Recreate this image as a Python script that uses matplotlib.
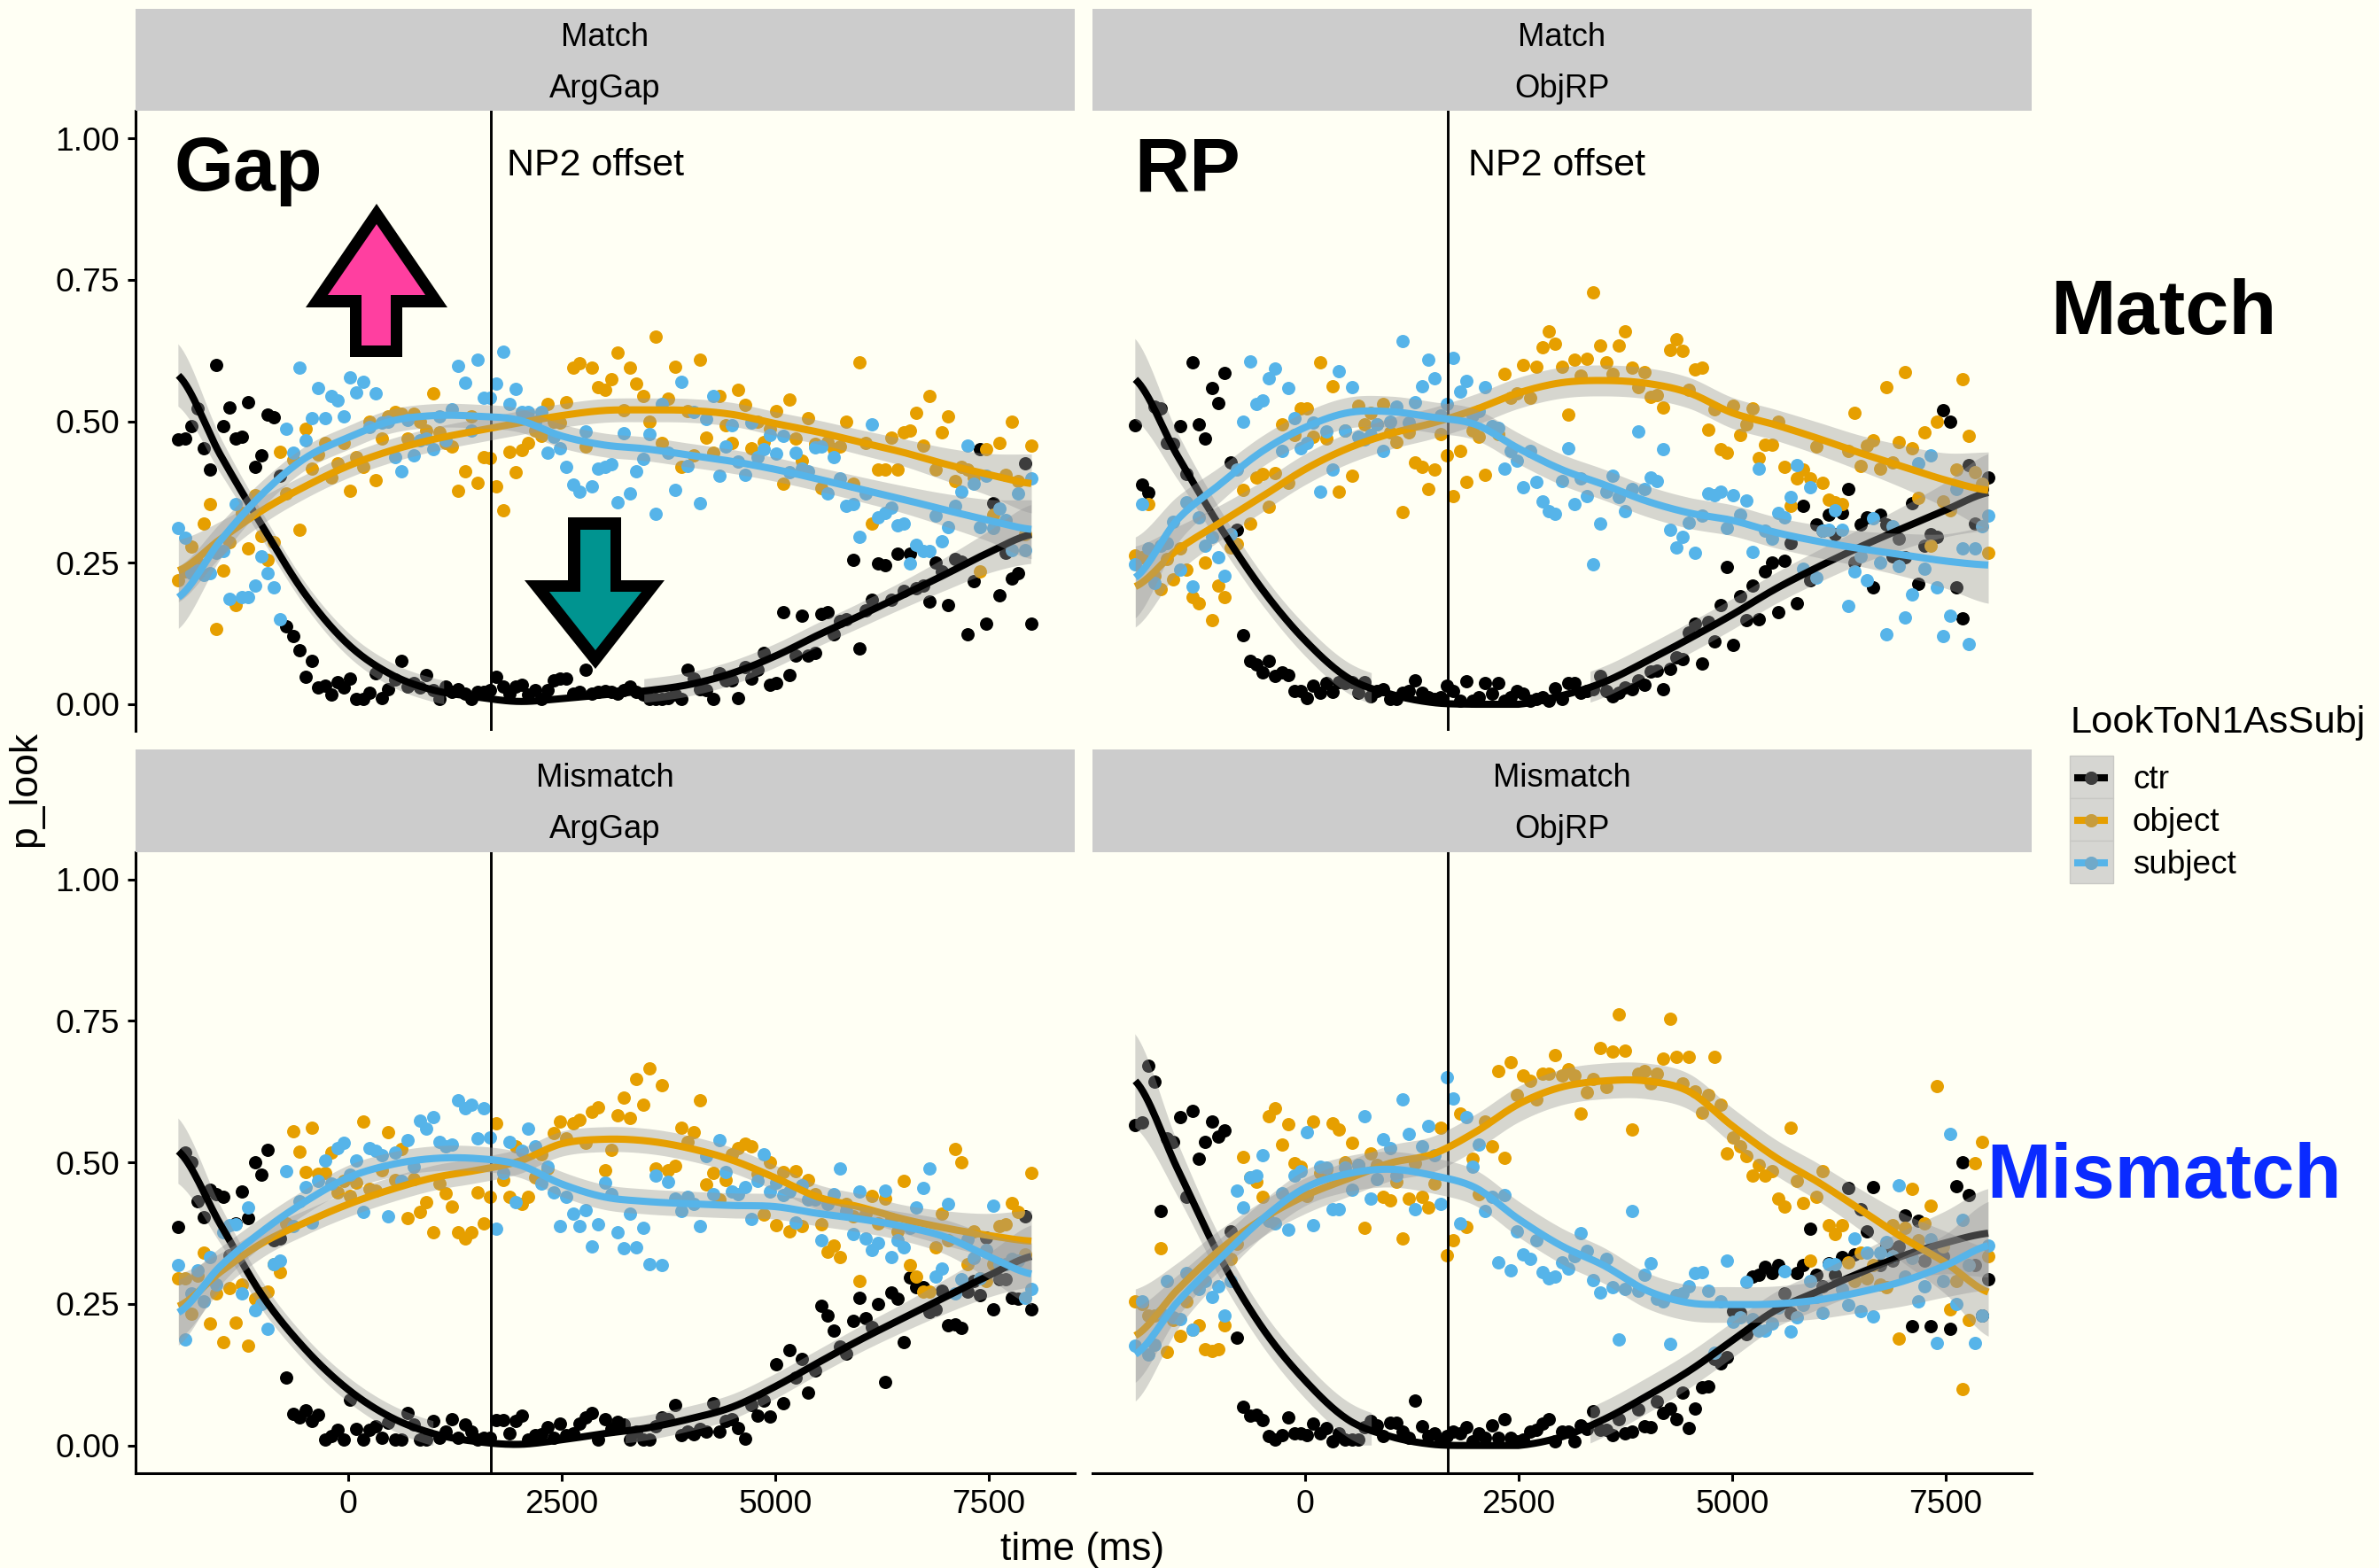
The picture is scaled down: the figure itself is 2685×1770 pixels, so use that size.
import numpy as np
import matplotlib
matplotlib.use("Agg")
import matplotlib.pyplot as plt
from matplotlib.patches import Polygon, Rectangle

plt.rcParams['font.family'] = ['Liberation Sans', 'DejaVu Sans']

W, H, DPI = 2685, 1770, 200
BG = '#FFFFF4'
COLORS = {'ctr': '#000000', 'object': '#E69F00', 'subject': '#56B4E9'}

TIME_START, TIME_STEP = -1986, 74.5
np2_offset_ms = 1675
x_ticks = [0, 2500, 5000, 7500]
y_ticks = [0.00, 0.25, 0.50, 0.75, 1.00]
y_tick_labels = ['0.00', '0.25', '0.50', '0.75', '1.00']
legend_labels = ['ctr', 'object', 'subject']

# ---- observed points (one value per time bin) ----
A_ctr = [.468,.470,.491,.523,.452,.415,.599,.491,.525,.470,.473,.534,.419,.439,.511,.507,.404,.138,.120,.095,.048,.077,.03,.033,.017,.039,.029,.045,.010,.009,.021,.054,.011,.027,.044,.076,.032,.038,.030,.052,.025,.010,.032,.022,.027,.019,.009,.022,.022,.025,.048,.032,.019,.032,.035,.017,.025,.009,.025,.043,.045,.045,.019,.022,.061,.019,.022,.023,.022,.019,.025,.032,.022,.017,.009,.009,.009,.011,.017,.009,.061,.045,.027,.025,.010,.054,.043,.043,.011,.066,.045,.061,.091,.035,.037,.163,.051,.086,.156,.086,.090,.160,.163,.124,.147,.150,.255,.098,.166,.185,.249,.245,.184,.266,.200,.266,.205,.21,.182,.251,.234,.176,.257,.252,.123,.218,.450,.143,.355,.192,.267,.223,.232,.425,.142]
A_obj = [.219,.235,.279,.25,.32,.354,.133,.236,.286,.176,.338,.275,.37,.297,.255,.286,.446,.372,.432,.308,.486,.416,.441,.461,.40,.426,.461,.377,.436,.419,.50,.396,.47,.508,.517,.514,.470,.513,.50,.484,.55,.481,.461,.456,.377,.411,.508,.391,.437,.435,.385,.343,.446,.41,.449,.462,.483,.474,.53,.50,.498,.533,.594,.602,.456,.594,.56,.556,.574,.622,.52,.595,.566,.544,.5,.65,.462,.54,.597,.419,.518,.44,.608,.471,.445,.544,.493,.461,.556,.529,.452,.5,.463,.487,.518,.389,.538,.469,.43,.505,.46,.382,.463,.45,.455,.5,.39,.604,.462,.32,.415,.415,.471,.415,.481,.484,.515,.457,.544,.415,.48,.509,.394,.42,.415,.40,.235,.451,.335,.461,.405,.499,.394,.301,.457]
A_sub = [.312,.294,.231,.236,.228,.231,.267,.27,.187,.353,.189,.189,.21,.262,.232,.206,.15,.487,.444,.595,.466,.505,.559,.505,.544,.537,.509,.577,.551,.569,.49,.55,.497,.5,.437,.412,.503,.44,.466,.47,.45,.508,.466,.521,.598,.568,.484,.608,.541,.541,.566,.623,.531,.557,.516,.516,.50,.516,.445,.473,.453,.42,.388,.376,.482,.385,.416,.419,.424,.357,.479,.372,.411,.433,.478,.336,.53,.445,.379,.569,.421,.516,.355,.504,.544,.404,.456,.493,.429,.405,.497,.437,.45,.475,.443,.474,.41,.444,.416,.411,.454,.456,.372,.436,.399,.351,.354,.295,.372,.494,.33,.338,.348,.316,.32,.249,.281,.27,.27,.333,.288,.313,.35,.375,.457,.39,.313,.403,.312,.346,.325,.273,.372,.273,.399]

B_ctr = [.493,.388,.374,.526,.522,.462,.46,.492,.407,.604,.494,.469,.558,.532,.585,.427,.309,.122,.076,.071,.057,.077,.05,.057,.052,.023,.023,.011,.033,.021,.037,.022,.039,.037,.039,.021,.039,.014,.023,.027,.01,.01,.021,.024,.042,.021,.013,.01,.013,.033,.023,.007,.04,.007,.013,.038,.019,.037,.007,.013,.024,.018,.007,.01,.013,.007,.028,.009,.038,.038,.021,.023,.026,.05,.024,.014,.02,.03,.026,.042,.035,.058,.06,.026,.063,.083,.08,.126,.142,.072,.145,.111,.176,.243,.105,.191,.148,.21,.15,.235,.251,.162,.253,.285,.179,.35,.219,.317,.306,.335,.30,.338,.38,.251,.317,.33,.207,.335,.317,.262,.293,.259,.355,.213,.28,.30,.295,.52,.50,.207,.152,.423,.32,.38,.40]
B_obj = [.263,.259,.353,.227,.203,.256,.22,.275,.238,.19,.178,.251,.149,.21,.19,.277,.283,.379,.32,.40,.407,.349,.408,.494,.391,.476,.523,.522,.473,.604,.47,.562,.375,.484,.403,.528,.494,.515,.494,.53,.48,.464,.34,.481,.427,.42,.38,.414,.478,.439,.367,.447,.393,.484,.472,.406,.49,.478,.583,.542,.55,.599,.542,.597,.631,.659,.637,.596,.512,.609,.581,.611,.727,.634,.604,.584,.634,.659,.595,.56,.587,.543,.546,.525,.626,.645,.625,.556,.592,.594,.485,.521,.451,.445,.527,.476,.494,.523,.435,.458,.458,.50,.419,.35,.399,.415,.399,.456,.391,.362,.357,.354,.448,.515,.421,.457,.467,.416,.561,.428,.463,.587,.452,.364,.48,.28,.50,.359,.343,.414,.575,.474,.41,.39,.268]
B_sub = [.247,.354,.275,.214,.28,.285,.322,.238,.357,.208,.33,.28,.296,.259,.227,.301,.415,.50,.605,.53,.536,.576,.593,.448,.559,.505,.453,.462,.497,.375,.482,.415,.588,.484,.561,.473,.468,.475,.494,.447,.50,.526,.642,.497,.534,.562,.609,.576,.51,.531,.612,.553,.571,.51,.518,.56,.492,.489,.416,.448,.431,.383,.448,.393,.359,.341,.337,.395,.453,.354,.399,.367,.248,.319,.375,.403,.366,.341,.38,.482,.38,.40,.394,.45,.309,.277,.296,.321,.268,.334,.372,.37,.375,.311,.369,.335,.36,.269,.417,.306,.293,.338,.33,.366,.423,.239,.383,.224,.306,.309,.343,.309,.173,.235,.261,.219,.329,.251,.123,.314,.244,.153,.194,.425,.24,.439,.207,.121,.157,.38,.275,.106,.275,.315,.334]

C_ctr = [.386,.517,.50,.431,.404,.452,.444,.44,.336,.392,.448,.402,.50,.479,.523,.362,.366,.12,.056,.05,.062,.044,.055,.011,.017,.027,.01,.081,.03,.011,.028,.034,.013,.041,.011,.011,.057,.037,.01,.01,.044,.013,.024,.047,.013,.037,.024,.01,.013,.014,.045,.045,.022,.044,.052,.01,.018,.02,.033,.013,.038,.019,.021,.039,.05,.057,.01,.047,.029,.042,.037,.011,.024,.011,.011,.034,.049,.047,.072,.019,.024,.02,.029,.025,.075,.025,.044,.047,.031,.012,.072,.053,.079,.051,.143,.074,.169,.12,.153,.093,.132,.247,.229,.203,.175,.162,.22,.261,.225,.21,.25,.112,.271,.26,.183,.297,.28,.28,.236,.24,.274,.213,.214,.208,.272,.29,.266,.367,.241,.293,.293,.261,.26,.405,.241]
C_obj = [.295,.296,.232,.30,.34,.215,.269,.182,.278,.217,.284,.177,.26,.269,.272,.321,.307,.393,.555,.519,.483,.561,.48,.482,.518,.447,.468,.441,.464,.573,.453,.45,.486,.554,.469,.524,.401,.471,.413,.43,.376,.462,.446,.422,.376,.365,.376,.447,.393,.44,.569,.469,.44,.528,.427,.44,.473,.515,.49,.552,.572,.542,.569,.575,.535,.589,.597,.487,.523,.584,.615,.578,.648,.602,.666,.49,.636,.487,.494,.562,.537,.553,.61,.461,.481,.435,.469,.515,.525,.533,.529,.48,.408,.50,.389,.483,.379,.484,.388,.469,.444,.391,.342,.353,.333,.426,.405,.29,.41,.441,.392,.436,.40,.379,.467,.319,.298,.272,.272,.35,.41,.363,.524,.50,.32,.379,.295,.29,.32,.387,.39,.428,.413,.337,.482]
C_sub = [.318,.187,.269,.31,.255,.333,.285,.376,.389,.391,.269,.42,.239,.25,.206,.321,.327,.485,.388,.432,.456,.394,.468,.504,.462,.525,.534,.478,.504,.413,.525,.52,.513,.405,.518,.468,.54,.492,.574,.559,.58,.537,.528,.531,.61,.596,.602,.542,.596,.544,.383,.481,.536,.43,.52,.56,.528,.462,.493,.447,.388,.44,.409,.388,.416,.352,.39,.465,.444,.376,.349,.41,.35,.385,.321,.477,.318,.466,.436,.415,.439,.426,.388,.511,.444,.54,.483,.448,.444,.456,.40,.468,.514,.448,.465,.443,.449,.394,.46,.435,.434,.362,.426,.444,.49,.415,.373,.448,.366,.345,.358,.451,.333,.363,.35,.384,.42,.455,.49,.299,.313,.426,.269,.293,.364,.332,.295,.345,.424,.32,.32,.33,.327,.261,.277]

D_ctr = [.566,.571,.671,.643,.415,.543,.536,.58,.439,.591,.507,.536,.573,.546,.557,.378,.19,.068,.052,.054,.045,.016,.01,.019,.049,.021,.021,.019,.038,.021,.031,.008,.021,.01,.01,.01,.032,.044,.035,.016,.041,.041,.024,.013,.08,.034,.016,.022,.008,.016,.024,.022,.032,.008,.021,.013,.035,.013,.046,.013,.008,.01,.024,.027,.038,.046,.008,.024,.024,.008,.036,.03,.061,.027,.027,.019,.047,.021,.024,.064,.034,.032,.077,.057,.066,.046,.094,.031,.066,.103,.104,.153,.145,.156,.238,.235,.197,.299,.301,.315,.304,.318,.268,.235,.304,.319,.383,.301,.282,.322,.302,.333,.455,.337,.417,.378,.457,.318,.351,.326,.351,.407,.211,.397,.326,.211,.34,.334,.206,.458,.50,.443,.318,.23,.293]
D_obj = [.255,.25,.23,.23,.349,.166,.222,.193,.255,.205,.212,.17,.167,.17,.212,.329,.356,.51,.474,.466,.44,.581,.595,.532,.567,.499,.493,.441,.572,.482,.488,.569,.558,.50,.535,.496,.384,.516,.496,.439,.433,.466,.366,.436,.499,.439,.421,.462,.561,.336,.362,.586,.386,.506,.444,.573,.528,.662,.508,.677,.62,.654,.645,.611,.657,.657,.689,.653,.664,.654,.587,.624,.647,.702,.634,.696,.761,.698,.558,.657,.661,.64,.657,.684,.754,.687,.64,.686,.625,.588,.62,.686,.602,.516,.544,.529,.512,.477,.495,.477,.484,.436,.422,.561,.468,.428,.326,.439,.485,.389,.373,.389,.323,.29,.34,.296,.318,.285,.279,.389,.189,.384,.454,.362,.392,.424,.635,.351,.24,.29,.10,.222,.499,.537,.334]
D_sub = [.177,.254,.161,.178,.235,.291,.227,.224,.304,.204,.277,.29,.262,.282,.229,.29,.451,.42,.473,.477,.513,.397,.392,.445,.381,.477,.484,.554,.389,.492,.491,.418,.418,.491,.452,.496,.581,.436,.471,.541,.526,.477,.611,.55,.418,.529,.565,.513,.426,.651,.613,.392,.58,.493,.532,.415,.44,.324,.443,.31,.378,.337,.329,.363,.307,.296,.299,.323,.313,.334,.375,.344,.292,.271,.33,.279,.187,.277,.415,.274,.302,.322,.26,.255,.179,.266,.268,.282,.305,.307,.273,.164,.255,.326,.219,.227,.289,.224,.203,.203,.216,.244,.308,.201,.227,.249,.29,.263,.234,.32,.32,.277,.249,.366,.238,.34,.228,.34,.359,.334,.459,.299,.332,.255,.282,.364,.181,.29,.55,.25,.399,.318,.181,.23,.353]

# ---- fitted smooth curves, read every 500 ms ----
smooth_t = [-1986,-1500,-1000,-500,0,500,1000,1500,2000,2500,3000,3500,4000,4500,5000,5500,6000,6500,7000,7500,8000]
A_ctr_fit = [.581,.442,.314,.194,.106,.053,.025,.013,.005,.010,.017,.024,.035,.055,.085,.122,.157,.193,.23,.268,.30]
A_obj_fit = [.236,.291,.343,.385,.421,.448,.468,.483,.497,.510,.519,.520,.519,.512,.496,.481,.463,.445,.424,.406,.390]
A_sub_fit = [.189,.288,.372,.435,.471,.50,.51,.509,.502,.474,.458,.451,.44,.429,.415,.398,.38,.362,.343,.325,.309]
B_ctr_fit = [.574,.441,.315,.203,.113,.047,.018,.003,0,0,.015,.039,.076,.116,.158,.203,.242,.278,.311,.343,.374]
B_obj_fit = [.208,.272,.32,.367,.415,.452,.478,.497,.521,.55,.568,.572,.567,.55,.515,.494,.47,.444,.42,.396,.378]
B_sub_fit = [.224,.325,.388,.447,.489,.515,.517,.507,.494,.452,.415,.388,.359,.338,.325,.304,.288,.275,.264,.253,.246]
C_ctr_fit = [.52,.392,.264,.17,.099,.05,.021,.007,.002,.010,.021,.031,.047,.068,.104,.146,.187,.225,.263,.30,.334]
C_obj_fit = [.246,.306,.358,.394,.426,.452,.473,.486,.502,.533,.541,.538,.525,.504,.473,.439,.421,.40,.384,.371,.361]
C_sub_fit = [.235,.316,.379,.431,.473,.496,.507,.507,.496,.462,.439,.431,.427,.424,.422,.41,.40,.387,.368,.334,.303]
D_ctr_fit = [.644,.491,.334,.208,.115,.046,.016,.002,0,0,.015,.046,.087,.132,.185,.238,.272,.305,.335,.358,.375]
D_obj_fit = [.194,.274,.345,.40,.441,.471,.499,.515,.554,.603,.633,.644,.644,.625,.565,.51,.466,.417,.367,.323,.271]
D_sub_fit = [.161,.252,.329,.40,.455,.48,.488,.477,.455,.40,.353,.318,.274,.252,.249,.25,.257,.271,.29,.318,.353]

band_halfwidth = [.055,.032,.024,.021,.021,.021,.021,.021,.021,.021,.021,.021,.021,.021,.021,.021,.022,.024,.029,.037,.052]

panels = [
    dict(top=('Match', 'ArgGap'), box=(153, 125, 1213, 825), strip=(10, 125), y0=795,
         pts=(A_ctr, A_obj, A_sub), fit=(A_ctr_fit, A_obj_fit, A_sub_fit), band=1.0, gap=(1128, 3450),
         left=True, bottom=False, note=2900),
    dict(top=('Match', 'ObjRP'), box=(1233, 125, 2293, 825), strip=(10, 125), y0=795,
         pts=(B_ctr, B_obj, B_sub), fit=(B_ctr_fit, B_obj_fit, B_sub_fit), band=1.3, gap=(793, 3328),
         left=False, bottom=False, note=2950),
    dict(top=('Mismatch', 'ArgGap'), box=(153, 962, 1213, 1663), strip=(846, 962), y0=1631.7,
         pts=(C_ctr, C_obj, C_sub), fit=(C_ctr_fit, C_obj_fit, C_sub_fit), band=1.05, gap=(1021, 3236),
         left=True, bottom=True, note=None),
    dict(top=('Mismatch', 'ObjRP'), box=(1233, 962, 2293, 1663), strip=(846, 962), y0=1631.7,
         pts=(D_ctr, D_obj, D_sub), fit=(D_ctr_fit, D_obj_fit, D_sub_fit), band=1.5, gap=(793, 3328),
         left=False, bottom=True, note=None),
]


def catmull(tk, vk, n=16):
    tk, vk = np.asarray(tk, float), np.asarray(vk, float)
    ts, vs = [], []
    for i in range(len(tk) - 1):
        p0 = vk[max(i - 1, 0)]; p1 = vk[i]; p2 = vk[i + 1]; p3 = vk[min(i + 2, len(vk) - 1)]
        u = np.linspace(0, 1, n, endpoint=False)
        vs.append(0.5 * (2 * p1 + (p2 - p0) * u + (2 * p0 - 5 * p1 + 4 * p2 - p3) * u**2 + (3 * p1 - p0 - 3 * p2 + p3) * u**3))
        ts.append(tk[i] + (tk[i + 1] - tk[i]) * u)
    return np.r_[np.concatenate(ts), tk[-1]], np.r_[np.concatenate(vs), vk[-1]]


fig = plt.figure(figsize=(W / DPI, H / DPI), dpi=DPI, facecolor=BG)
PX_PER_MS = 0.0964
PX_PER_UNIT = 639.0
keys = ['ctr', 'object', 'subject']
LW = 2.9
PT = 29

for p in panels:
    l, t, r, b = p['box']
    ax = fig.add_axes([l / W, 1 - b / H, (r - l) / W, (b - t) / H], facecolor=BG)
    x0 = 392.8 if l < 1000 else 1472.8
    ax.set_xlim((l - x0) / PX_PER_MS, (r - x0) / PX_PER_MS)
    ax.set_ylim((p['y0'] - b) / PX_PER_UNIT, (p['y0'] - t) / PX_PER_UNIT)
    for k, vals in zip(keys, p['pts']):
        xs = TIME_START + TIME_STEP * np.arange(len(vals))
        ax.scatter(xs, vals, s=PT, color=COLORS[k], linewidths=0, zorder=2, clip_on=False)
    ax.axvline(np2_offset_ms, color='black', lw=1.05, zorder=3)
    for j, (k, fit) in enumerate(zip(keys, p['fit'])):
        ts, vs = catmull(smooth_t, fit)
        vs = np.clip(vs, 0, 1)
        _, hw = catmull(smooth_t, np.array(band_halfwidth) * p['band'])
        if k == 'ctr':
            mask = (ts < p['gap'][0]) | (ts > p['gap'][1])
            ax.fill_between(ts, np.clip(vs - hw, 0, 1), np.clip(vs + hw, 0, 1), where=mask,
                            color='#999999', alpha=.4, lw=0, zorder=4 + j, interpolate=False)
        else:
            ax.fill_between(ts, vs - hw, vs + hw, color='#999999', alpha=.4, lw=0, zorder=4 + j)
        ax.plot(ts, vs, color=COLORS[k], lw=LW, zorder=4 + j, solid_capstyle='butt')
    for s in ax.spines.values():
        s.set_visible(False)
    ax.spines['left'].set_visible(p['left'])
    ax.spines['bottom'].set_visible(p['bottom'])
    ax.spines['left'].set_linewidth(1.1)
    ax.spines['bottom'].set_linewidth(1.1)
    ax.set_yticks(y_ticks if p['left'] else [])
    ax.set_yticklabels(y_tick_labels if p['left'] else [])
    ax.set_xticks(x_ticks if p['bottom'] else [])
    if p['bottom']:
        ax.set_xticklabels([str(v) for v in x_ticks])
    ax.tick_params(axis='both', length=3.4, width=1.1, labelsize=13.4, pad=3.0, color='black', labelcolor='black')
    if p['note'] is not None:
        ax.text(p['note'], (p['y0'] - 187) / PX_PER_UNIT, 'NP2 offset', ha='center', va='center', fontsize=15.5, zorder=9)

# ---- overlay in pixel coordinates: strips, arrows, big labels, legend ----
ov = fig.add_axes([0, 0, 1, 1], zorder=10)
ov.set_xlim(0, W); ov.set_ylim(H, 0); ov.axis('off'); ov.patch.set_alpha(0)
for p in panels:
    l, t, r, b = p['box']
    s0, s1 = p['strip']
    ov.add_patch(Rectangle((l, s0), r - l, s1 - s0, fc='#CCCCCC', ec='none'))
    cx = (l + r) / 2
    ov.text(cx, s0 + 33, p['top'][0], ha='center', va='center', fontsize=13.1)
    ov.text(cx, s0 + 90, p['top'][1], ha='center', va='center', fontsize=13.1)

up_outer = [(425, 230), (505, 347), (454, 347), (454, 403), (395, 403), (395, 347), (345, 347)]
up_inner = [(425, 253), (480, 333), (441, 333), (441, 390), (408, 390), (408, 333), (370, 333)]
down_outer = [(672, 755), (750, 655), (701, 655), (701, 584), (641, 584), (641, 655), (592, 655)]
down_inner = [(672, 734), (724, 668), (689, 668), (689, 598), (655, 598), (655, 668), (620, 668)]
ov.add_patch(Polygon(up_outer, fc='black', ec='none'))
ov.add_patch(Polygon(up_inner, fc='#FF3FA0', ec='none'))
ov.add_patch(Polygon(down_outer, fc='black', ec='none'))
ov.add_patch(Polygon(down_inner, fc='#009490', ec='none'))

ov.text(197, 215, 'Gap', fontsize=31, fontweight='bold', ha='left', va='baseline')
ov.text(1280, 215, 'RP', fontsize=31, fontweight='bold', ha='left', va='baseline')
ov.text(2442, 377, 'Match', fontsize=31.8, fontweight='bold', ha='center', va='baseline')
ov.text(2442, 1352, 'Mismatch', fontsize=31.3, fontweight='bold', ha='center', va='baseline', color='#0A2BFF')
ov.text(29, 890, 'p_look', fontsize=16, rotation=90, ha='center', va='center')
ov.text(1222, 1749, 'time (ms)', fontsize=16, ha='center', va='center')

ov.text(2337, 827, 'LookToN1AsSubj', fontsize=15.6, ha='left', va='baseline')
key_top = [853, 901, 949]
for yk, k, lab in zip(key_top, keys, legend_labels):
    ov.add_patch(Rectangle((2336, yk), 49, 48, fc='#D6D6D2', ec='#C8C8C4', lw=0.5))
    ym = yk + 25
    ov.plot([2341, 2379], [ym, ym], color=COLORS[k], lw=LW, solid_capstyle='butt')
    ov.scatter([2360], [ym], s=PT, color=COLORS[k], linewidths=0, zorder=3)
    ov.scatter([2360], [ym], s=PT, color='#999999', alpha=.4, linewidths=0, zorder=4)
    ov.text(2407, yk + 28, lab, fontsize=13.3, ha='left', va='center')

fig.savefig('out.png', dpi=DPI, facecolor=BG)
